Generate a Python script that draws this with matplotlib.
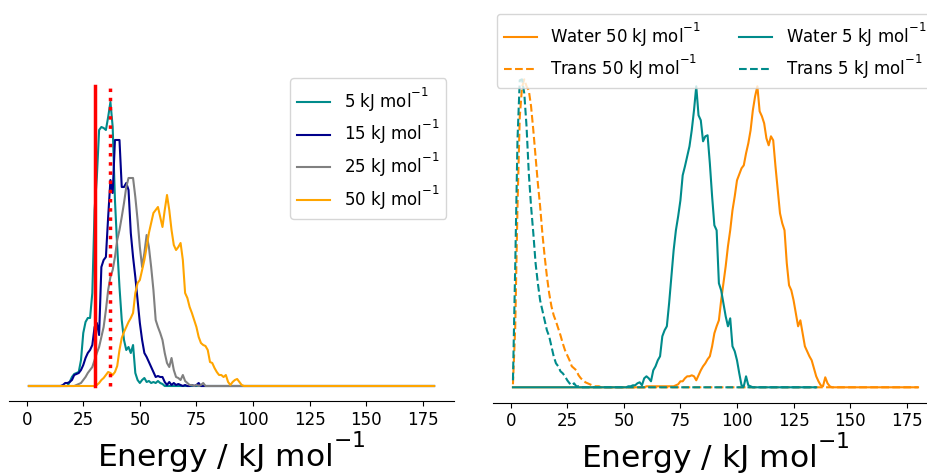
import numpy as np
import matplotlib
matplotlib.use("Agg")
import matplotlib.pyplot as plt

# energies (kJ/mol), 1 kJ bins
energy = np.arange(1, 181)
energy_short = np.arange(1, 136)

# left panel: histogram heights (arbitrary units), starting at 16 kJ/mol
start_left = 16
h5 = [0, 0, 0, 4, 9, 12, 13, 14, 26, 53, 64, 68, 68, 93, 176, 209, 256, 259, 258, 256,
      269, 284, 259, 186, 139, 99, 66, 46, 36, 39, 33, 41, 13, 6, 3, 6, 8, 4, 5, 3,
      4, 3, 5, 3, 2, 0]
h15 = [1, 3, 3, 4, 6, 11, 12, 13, 16, 21, 28, 33, 36, 41, 59, 63, 51, 119, 126, 129,
       169, 206, 193, 246, 246, 246, 199, 199, 203, 196, 153, 129, 109, 86, 63, 46, 33, 29, 24, 19,
       14, 9, 10, 9, 9, 4, 1, 4, 1, 3, 1, 2, 1, 0, 1, 0, 0, 1, 0, 1,
       3, 0]
h25 = [0, 0, 0, 0, 0, 0, 1, 2, 3, 6, 9, 13, 16, 19, 26, 33, 39, 49, 59, 76,
       96, 109, 116, 129, 146, 156, 169, 183, 199, 208, 208, 208, 189, 166, 139, 119, 133, 151, 139, 119,
       96, 66, 59, 53, 46, 33, 23, 19, 28, 16, 9, 8, 6, 11, 5, 3, 1, 1, 0, 1,
       0, 1, 3, 0]
h50 = [0, 0, 0, 0, 0, 0, 0, 0, 0, 0, 0, 0, 0, 0, 0, 1, 3, 6, 8, 11,
       14, 13, 11, 14, 20, 36, 48, 54, 59, 64, 68, 73, 93, 103, 106, 116, 126, 139, 153, 163,
       173, 176, 179, 169, 159, 176, 191, 176, 156, 141, 136, 139, 143, 126, 93, 88, 79, 73, 66, 59,
       49, 43, 41, 40, 36, 24, 23, 18, 14, 11, 11, 9, 11, 4, 1, 4, 6, 7, 4, 1,
       0]
# superscript raised high like the old mathtext did
unit = r"kJ mol$^{\genfrac{.}{.}{0}{0}{-1}{\,}}$"
left_labels = ["5 " + unit, "15 " + unit, "25 " + unit, "50 " + unit]
left_colors = ["darkcyan", "darkblue", "grey", "orange"]
ref_solid = 30
ref_dotted = 37
ref_height = 300

# right panel
trans5 = [7, 121, 247, 307, 308, 294, 261, 214, 181, 154, 124, 104, 87, 77, 67, 57, 51, 41, 31, 24,
          21, 16, 14, 11, 7, 4, 2, 4, 1, 1]
trans50 = [3, 60, 180, 270, 300, 308, 301, 297, 281, 257, 231, 204, 181, 154, 131, 111, 94, 81, 72, 66,
           59, 52, 44, 37, 32, 27, 21, 19, 17, 12, 9, 7, 5, 4, 3, 2, 1, 1, 1]
start_w5 = 52
water5 = [1, 1, 2, 2, 4, 5, 2, 9, 11, 9, 6, 17, 21, 27, 31, 51, 57, 61, 84, 111,
          137, 157, 171, 187, 212, 221, 231, 241, 257, 277, 301, 272, 267, 246, 251, 252, 224, 191, 162, 157,
          104, 97, 84, 71, 61, 69, 41, 36, 27, 14, 2, 1, 11, 2, 1]
start_w50 = 60
water50 = [1, 1, 1, 1, 1, 1, 1, 1, 1, 1, 1, 1, 1, 2, 3, 6, 6, 9, 11, 11,
           12, 11, 7, 12, 17, 21, 24, 28, 31, 41, 54, 61, 67, 87, 104, 121, 141, 157, 177, 191,
           207, 213, 219, 222, 234, 244, 257, 277, 291, 301, 276, 271, 264, 249, 242, 251, 247, 221, 197, 174,
           164, 157, 124, 102, 97, 87, 74, 61, 67, 54, 41, 36, 31, 27, 19, 11, 6, 2, 1, 10,
           4, 1]


def pad(vals, start, x):
    y = np.zeros(len(x))
    y[start - 1:start - 1 + len(vals)] = vals
    return y


fig = plt.figure(figsize=(9.27, 4.76), dpi=100)
W, H = 927, 476
ax1 = fig.add_axes([8.7 / W, (H - 401.2) / H, 445.6 / W, 331.2 / H])
ax2 = fig.add_axes([492.7 / W, (H - 402.7) / H, 445.6 / W, 339.0 / H])

for vals, lab, col in zip([h5, h15, h25, h50], left_labels, left_colors):
    ax1.plot(energy, pad(vals, start_left, energy), color=col, lw=1.5, label=lab)
ax1.plot([ref_solid, ref_solid], [0, ref_height], color="red", lw=2.5)
ax1.plot([ref_dotted, ref_dotted], [0, ref_height], color="red", lw=2.5, ls=":")
ax1.set_xlim(-7.95, 188.95)
ax1.set_ylim(-15.2, 316)
ax1.legend(fontsize=12, loc="upper right", labelspacing=0.25)

ax2.plot(energy, pad(water50, start_w50, energy), color="darkorange", lw=1.5,
         label="Water 50 " + unit)
ax2.plot(energy, pad(trans50, 1, energy), color="darkorange", lw=1.5, ls="--",
         label="Trans 50 " + unit)
ax2.plot(energy_short, pad(water5, start_w5, energy_short), color="darkcyan", lw=1.5,
         label="Water 5 " + unit)
ax2.plot(energy_short, pad(trans5, 1, energy_short), color="darkcyan", lw=1.5, ls="--",
         label="Trans 5 " + unit)
ax2.set_xlim(-7.95, 188.95)
ax2.set_ylim(-15.4, 323.6)
ax2.legend(fontsize=12, ncol=2, loc="upper left", borderaxespad=0, labelspacing=0.18,
           columnspacing=2.25, bbox_to_anchor=(497 / W, (H - 14) / H),
           bbox_transform=fig.transFigure)

for ax in (ax1, ax2):
    for s in ("top", "right", "left"):
        ax.spines[s].set_visible(False)
    ax.set_yticks([])
    ax.set_xticks([0, 25, 50, 75, 100, 125, 150, 175])
    ax.tick_params(axis="x", labelsize=12)
    ax.set_xlabel("Energy / " + unit, fontsize=22.5, labelpad=0.5)

fig.savefig("out.png", dpi=100)
